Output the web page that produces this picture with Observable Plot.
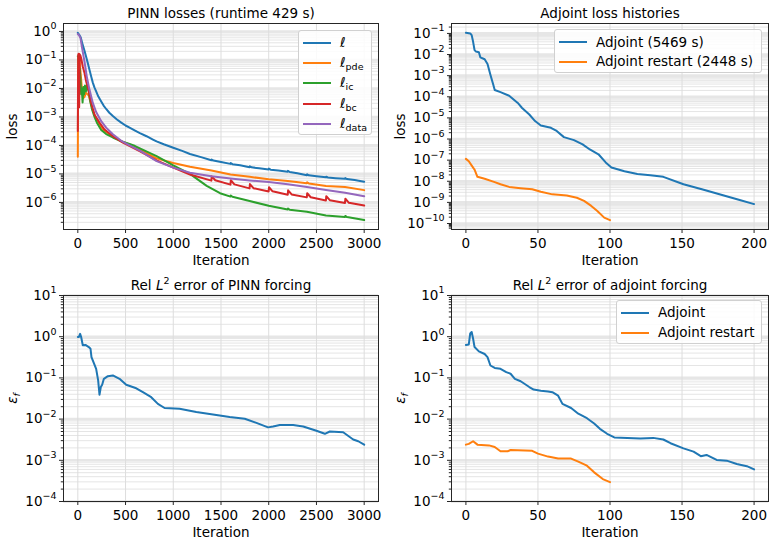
<!DOCTYPE html>
<html>
<head>
<meta charset="utf-8">
<script src="https://cdn.jsdelivr.net/npm/d3@7"></script>
<script src="https://cdn.jsdelivr.net/npm/@observablehq/plot@0.6"></script>
<style>
  html, body { margin: 0; padding: 0; background: #fff; }
  #wrap { position: relative; width: 776px; height: 543px; font-family: "DejaVu Sans", sans-serif; color: #000; }
  .panel { position: absolute; }
  .legend { position: absolute; box-sizing: border-box; border: 1px solid #d0d0d0; border-radius: 3px;
            background: rgba(255,255,255,0.85); font-size: 13.5px; }
  .legend .row { display: flex; align-items: center; position: relative; }
  .legend .sw { display: inline-block; width: 28px; height: 2px; margin-left: 4px; }
  .legend .lab { margin-left: 9px; white-space: nowrap; line-height: 1; }
  .legend sub { font-size: 9.5px; vertical-align: -3px; line-height: 0; }
  .legend i { font-style: italic; }
</style>
</head>
<body>
<div id="wrap">
  <div class="panel" id="p1" style="left:0;top:0"></div>
  <div class="panel" id="p2" style="left:388px;top:0"></div>
  <div class="panel" id="p3" style="left:0;top:272px"></div>
  <div class="panel" id="p4" style="left:388px;top:272px"></div>
</div>
<script>
// ---------------- data ----------------
const colors = ["#1f77b4", "#ff7f0e", "#2ca02c", "#d62728", "#9467bd"];

const pinnIterTicks = [0, 500, 1000, 1500, 2000, 2500, 3000];
const adjIterTicks = [0, 50, 100, 150, 200];
const pinnLossDecades = [1e-6, 1e-5, 1e-4, 1e-3, 1e-2, 1e-1, 1];
const adjLossDecades = [1e-10, 1e-9, 1e-8, 1e-7, 1e-6, 1e-5, 1e-4, 1e-3, 1e-2, 1e-1];
const errDecades = [1e-4, 1e-3, 1e-2, 1e-1, 1, 10];

const panelTitles = ["PINN losses (runtime 429 s)", "Adjoint loss histories",
                     "Rel L2 error of PINN forcing", "Rel L2 error of adjoint forcing"];

// PINN losses [iteration, loss]
const lossTotal = [[0,0.89],[15,0.76],[30,0.63],[52,0.33],[70,0.21],[87,0.13],[105,0.076],[122,0.045],[140,0.026],[157,0.016],[175,0.0107],[192,7.9e-3],[215,5.2e-3],[245,3.5e-3],[270,2.5e-3],[297,1.9e-3],[330,1.4e-3],[367,1.07e-3],[410,8.1e-4],[455,6.3e-4],[500,5.0e-4],[542,4.2e-4],[600,3.3e-4],[650,2.7e-4],[720,2.1e-4],[787,1.6e-4],[825,1.38e-4],[900,1.1e-4],[1000,8.3e-5],[1100,6.3e-5],[1175,5.0e-5],[1300,3.8e-5],[1399,3.0e-5],[1402,3.2e-5],[1420,2.95e-5],[1500,2.6e-5],[1599,2.25e-5],[1602,2.4e-5],[1620,2.2e-5],[1700,2.0e-5],[1799,1.72e-5],[1802,1.84e-5],[1820,1.7e-5],[1900,1.58e-5],[1999,1.43e-5],[2002,1.53e-5],[2020,1.41e-5],[2100,1.32e-5],[2199,1.19e-5],[2202,1.28e-5],[2220,1.17e-5],[2300,1.05e-5],[2399,9.0e-6],[2402,9.7e-6],[2420,8.9e-6],[2500,8.3e-6],[2599,7.6e-6],[2602,8.0e-6],[2620,7.5e-6],[2700,7.1e-6],[2799,6.7e-6],[2802,7.1e-6],[2820,6.6e-6],[2900,6.1e-6],[3000,5.3e-6]];
const lossPde = [[0,4.0e-5],[4,0.1],[10,0.14],[20,0.079],[30,0.032],[40,0.0126],[55,4.5e-3],[70,5.0e-3],[85,7.1e-3],[100,6.3e-3],[115,5.6e-3],[135,3.2e-3],[160,1.6e-3],[190,8.9e-4],[230,5.0e-4],[280,3.2e-4],[367,2.1e-4],[455,1.4e-4],[542,1.07e-4],[650,7.1e-5],[825,3.5e-5],[1000,2.4e-5],[1175,1.78e-5],[1400,1.32e-5],[1600,9.5e-6],[1800,7.9e-6],[2000,6.5e-6],[2200,5.6e-6],[2399,4.7e-6],[2402,5.1e-6],[2420,4.65e-6],[2600,3.8e-6],[2800,3.5e-6],[3000,2.7e-6]];
const lossIc = [[0,0.135],[6,0.126],[12,0.032],[20,0.05],[28,0.02],[35,6.3e-3],[42,0.01],[50,3.2e-3],[58,0.0112],[66,6.3e-3],[75,0.0126],[85,7.9e-3],[95,0.0126],[105,0.01],[115,7.9e-3],[130,3.5e-3],[150,1.78e-3],[175,1.0e-3],[200,6.3e-4],[245,3.5e-4],[297,2.5e-4],[367,1.9e-4],[455,1.4e-4],[542,1.12e-4],[600,9.5e-5],[650,7.9e-5],[825,4.2e-5],[1000,2.0e-5],[1175,1.0e-5],[1350,3.8e-6],[1490,2.1e-6],[1599,1.6e-6],[1602,1.75e-6],[1620,1.58e-6],[1800,1.12e-6],[2000,7.6e-7],[2199,5.6e-7],[2202,6.1e-7],[2220,5.5e-7],[2400,4.7e-7],[2600,3.5e-7],[2799,3.1e-7],[2802,3.35e-7],[2820,3.05e-7],[3000,2.4e-7]];
const lossBc = [[0,3.2e-4],[4,0.15],[9,0.166],[14,2.2e-3],[19,0.158],[28,0.14],[35,0.115],[52,0.059],[70,0.035],[87,0.0178],[115,7.9e-3],[140,3.1e-3],[175,1.2e-3],[227,6.3e-4],[280,3.6e-4],[367,2.1e-4],[472,1.26e-4],[560,8.9e-5],[647,6.3e-5],[825,3.0e-5],[1000,1.66e-5],[1175,9.5e-6],[1399,5.8e-6],[1403,8.2e-6],[1440,6.0e-6],[1599,4.2e-6],[1603,6.0e-6],[1640,4.3e-6],[1799,3.1e-6],[1803,4.4e-6],[1840,3.15e-6],[1999,2.4e-6],[2003,3.4e-6],[2040,2.45e-6],[2199,1.85e-6],[2203,2.65e-6],[2240,1.9e-6],[2399,1.5e-6],[2403,2.1e-6],[2440,1.52e-6],[2599,1.17e-6],[2603,1.65e-6],[2640,1.2e-6],[2799,9.5e-7],[2803,1.35e-6],[2840,9.7e-7],[3000,7.8e-7]];
const lossData = [[0,0.81],[15,0.72],[28,0.58],[45,0.26],[70,0.087],[94,0.026],[122,9.1e-3],[157,3.1e-3],[192,1.48e-3],[245,7.1e-4],[297,4.2e-4],[367,2.45e-4],[455,1.45e-4],[542,1.0e-4],[650,6.6e-5],[825,2.8e-5],[1000,1.66e-5],[1175,1.1e-5],[1400,8.3e-6],[1600,6.9e-6],[1800,5.9e-6],[2000,5.2e-6],[2200,4.3e-6],[2400,3.5e-6],[2600,2.75e-6],[2800,2.2e-6],[3000,1.65e-6]];

// Adjoint loss histories [iteration, loss]
const adjLoss = [[0,0.107],[3,0.1],[4,0.083],[5,0.04],[6,0.0162],[7,0.0138],[9,0.0129],[10,7.4e-3],[13,6.0e-3],[15,3.6e-3],[17,1.1e-3],[19,3.7e-4],[20,2.1e-4],[24,1.66e-4],[30,1.12e-4],[36,5.1e-5],[39,2.95e-5],[44,1.45e-5],[48,7.1e-6],[52,4.4e-6],[59,3.4e-6],[63,2.4e-6],[68,1.23e-6],[75,8.9e-7],[81,5.6e-7],[86,3.2e-7],[92,1.9e-7],[97,7.8e-8],[101,4.5e-8],[110,3.0e-8],[119,2.2e-8],[128,1.95e-8],[137,1.62e-8],[151,7.2e-9],[165,4.0e-9],[179,2.1e-9],[190,1.29e-9],[200,8.3e-10]];
const adjRestartLoss = [[0,1.15e-7],[2,8.9e-8],[5,4.4e-8],[6,3.6e-8],[8,1.62e-8],[13,1.32e-8],[20,9.1e-9],[24,7.2e-9],[30,5.4e-9],[38,4.7e-9],[46,4.2e-9],[52,3.2e-9],[60,2.4e-9],[70,2.1e-9],[77,1.66e-9],[82,1.17e-9],[87,6.8e-10],[91,4.0e-10],[96,1.9e-10],[100,1.45e-10]];

// Rel L2 error of PINN forcing [iteration, error]
const pinnErr = [[0,0.98],[10,0.98],[24,1.17],[35,0.98],[52,0.62],[80,0.63],[115,0.56],[133,0.51],[143,0.32],[164,0.24],[192,0.166],[213,0.087],[227,0.039],[241,0.06],[255,0.068],[273,0.095],[315,0.11],[367,0.115],[437,0.095],[507,0.068],[612,0.056],[682,0.045],[769,0.034],[839,0.0234],[909,0.0186],[1066,0.0178],[1241,0.0148],[1416,0.0129],[1591,0.0112],[1749,0.0102],[1871,8.1e-3],[1993,6.3e-3],[2046,6.6e-3],[2116,7.2e-3],[2256,7.2e-3],[2361,6.6e-3],[2500,5.2e-3],[2588,4.4e-3],[2640,5.0e-3],[2780,4.8e-3],[2885,3.2e-3],[2938,2.9e-3],[3000,2.4e-3]];

// Rel L2 error of adjoint forcing [iteration, error]
const adjErr = [[0,0.63],[2,0.65],[3,1.2],[4,1.3],[5,0.89],[6,0.56],[9,0.44],[13,0.38],[15,0.32],[17,0.2],[20,0.174],[24,0.166],[28,0.138],[31,0.126],[34,0.095],[38,0.083],[44,0.06],[47,0.052],[52,0.049],[57,0.047],[60,0.045],[64,0.037],[67,0.0234],[73,0.0186],[78,0.0135],[84,0.0105],[89,7.8e-3],[93,5.8e-3],[98,4.4e-3],[103,3.6e-3],[112,3.5e-3],[121,3.4e-3],[130,3.5e-3],[137,3.2e-3],[142,2.6e-3],[151,1.95e-3],[158,1.62e-3],[163,1.26e-3],[167,1.35e-3],[174,1.02e-3],[181,9.8e-4],[188,8.1e-4],[195,7.2e-4],[200,6.0e-4]];
const adjRestartErr = [[0,2.4e-3],[2,2.5e-3],[5,2.9e-3],[8,2.4e-3],[16,2.3e-3],[20,2.1e-3],[24,1.66e-3],[29,1.66e-3],[31,1.78e-3],[46,1.7e-3],[50,1.45e-3],[57,1.23e-3],[64,1.1e-3],[73,1.1e-3],[78,9.3e-4],[84,7.4e-4],[89,5.1e-4],[95,3.5e-4],[100,2.95e-4]];

// ---------------- drawing ----------------
const FONT = "DejaVu Sans";

function panel({height, marginRight, xDomain, xTicks, yDomain, yMajor, title, ylabel, series}) {
  const yMinor = d3.scaleLog().domain(yDomain).ticks()
    .filter(v => Math.abs(Math.log10(v) - Math.round(Math.log10(v))) > 1e-6);
  return Plot.plot({
    width: 388, height,
    marginLeft: 63, marginRight, marginTop: 23, marginBottom: height - 229,
    style: {fontFamily: FONT, fontSize: "13.5px", color: "#000", background: "transparent", overflow: "visible"},
    x: {domain: xDomain},
    y: {type: "log", domain: yDomain},
    marks: [
      Plot.gridY(yMinor, {stroke: "#e2e2e2", strokeOpacity: 1, strokeWidth: 0.9}),
      Plot.gridY(yMajor, {stroke: "#e6e6e6", strokeOpacity: 1, strokeWidth: 2.6}),
      Plot.gridX(xTicks, {stroke: "#dddddd", strokeOpacity: 1, strokeWidth: 1}),
      ...series.map(([data, color]) => Plot.line(data, {x: d => d[0], y: d => d[1], stroke: color, strokeWidth: 2, strokeLinejoin: "round"})),
      Plot.frame({stroke: "#262626", strokeWidth: 1}),
      Plot.axisX(xTicks, {tickSize: 4, tickPadding: 5, label: null, tickFormat: d => String(d), stroke: "#262626"}),
      Plot.axisY(yMajor, {tickSize: 4, tickPadding: 3, label: null, stroke: "#262626",
                          tickFormat: d => "10^" + Math.round(Math.log10(d))}),
      Plot.axisY(yMinor, {tickSize: 2.2, label: null, tickFormat: () => "", stroke: "#262626"}),
      Plot.text([title], {frameAnchor: "top", lineAnchor: "middle", textAnchor: "middle", dy: -10, text: d => d, fontSize: 13.5}),
      Plot.text(["Iteration"], {frameAnchor: "bottom", lineAnchor: "middle", textAnchor: "middle", dy: 31.5, text: d => d, fontSize: 13.5}),
      Plot.text([ylabel], {frameAnchor: "left", lineAnchor: "middle", textAnchor: "middle", dx: -51.3, rotate: -90, text: d => d, fontSize: 13.5})
    ]
  });
}

function rich(el, parts) {
  const sel = d3.select(el);
  sel.text(null);
  let shift = 0;
  for (const p of parts) {
    const ts = sel.append("tspan").text(p.t);
    if (p.i) ts.attr("font-style", "italic");
    const target = p.sup ? (p.shift ?? -6) : p.sub ? 3.5 : 0;
    if (target !== shift) { ts.attr("dy", target - shift); shift = target; }
    if (p.sup || p.sub) ts.attr("font-size", p.size ?? "9.5px");
  }
}

function finish(svg) {
  d3.select(svg).selectAll("text").each(function() {
    const s = this.textContent;
    let m;
    if ((m = /^10\^(-?\d+)$/.exec(s))) {
      rich(this, [{t: "10"}, {t: m[1].replace("-", "\u2212"), sup: true, shift: -6.5, size: "9.5px"}]);
    } else if (s.startsWith("Rel L2 ")) {
      rich(this, [{t: "Rel "}, {t: "L", i: true}, {t: "2", sup: true, shift: -6, size: "9.5px"}, {t: s.slice(6)}]);
    } else if (s === "eps_f") {
      rich(this, [{t: "\u03b5", i: true}, {t: "f", i: true, sub: true}]);
    }
  });
  return svg;
}

const p1 = panel({height: 272, marginRight: 10, xDomain: [-150, 3150], xTicks: pinnIterTicks,
  yDomain: [1.12e-7, 1.9], yMajor: pinnLossDecades, title: panelTitles[0], ylabel: "loss",
  series: [[lossTotal, colors[0]], [lossPde, colors[1]], [lossIc, colors[2]], [lossBc, colors[3]], [lossData, colors[4]]]});
const p2 = panel({height: 272, marginRight: 8, xDomain: [-10, 210], xTicks: adjIterTicks,
  yDomain: [5.2e-11, 0.295], yMajor: adjLossDecades, title: panelTitles[1], ylabel: "loss",
  series: [[adjLoss, colors[0]], [adjRestartLoss, colors[1]]]});
const p3 = panel({height: 271, marginRight: 10, xDomain: [-150, 3150], xTicks: pinnIterTicks,
  yDomain: [1e-4, 10], yMajor: errDecades, title: panelTitles[2], ylabel: "eps_f",
  series: [[pinnErr, colors[0]]]});
const p4 = panel({height: 271, marginRight: 8, xDomain: [-10, 210], xTicks: adjIterTicks,
  yDomain: [1e-4, 10], yMajor: errDecades, title: panelTitles[3], ylabel: "eps_f",
  series: [[adjErr, colors[0]], [adjRestartErr, colors[1]]]});

document.getElementById("p1").appendChild(finish(p1));
document.getElementById("p2").appendChild(finish(p2));
document.getElementById("p3").appendChild(finish(p3));
document.getElementById("p4").appendChild(finish(p4));

// ---------------- legends ----------------
const legendPinn = [["", colors[0]], ["pde", colors[1]], ["ic", colors[2]], ["bc", colors[3]], ["data", colors[4]]];
const legendAdjLoss = [["Adjoint (5469 s)", colors[0]], ["Adjoint restart (2448 s)", colors[1]]];
const legendAdjErr = [["Adjoint", colors[0]], ["Adjoint restart", colors[1]]];

function legend(items, {left, top, width, height, padTop, rowH, ell}) {
  const box = document.createElement("div");
  box.className = "legend";
  Object.assign(box.style, {left: left + "px", top: top + "px", width: width + "px", height: height + "px", paddingTop: padTop + "px"});
  for (const [label, color] of items) {
    const row = document.createElement("div");
    row.className = "row";
    row.style.height = rowH + "px";
    const sw = document.createElement("span");
    sw.className = "sw"; sw.style.background = color;
    const lab = document.createElement("span");
    lab.className = "lab";
    if (ell) {
      const i = document.createElement("i"); i.textContent = "\u2113"; lab.appendChild(i);
      if (label) { const sb = document.createElement("sub"); sb.textContent = label; lab.appendChild(sb); }
    } else {
      lab.textContent = label;
    }
    row.appendChild(sw); row.appendChild(lab);
    box.appendChild(row);
  }
  document.getElementById("wrap").appendChild(box);
}
legend(legendPinn, {left: 298, top: 30, width: 74, height: 105, padTop: 1.5, rowH: 20.3, ell: true});
legend(legendAdjLoss, {left: 554, top: 29, width: 208, height: 44, padTop: 2.5, rowH: 19.5, ell: false});
legend(legendAdjErr, {left: 616, top: 300, width: 146, height: 44, padTop: 1.5, rowH: 20, ell: false});
</script>
</body>
</html>
